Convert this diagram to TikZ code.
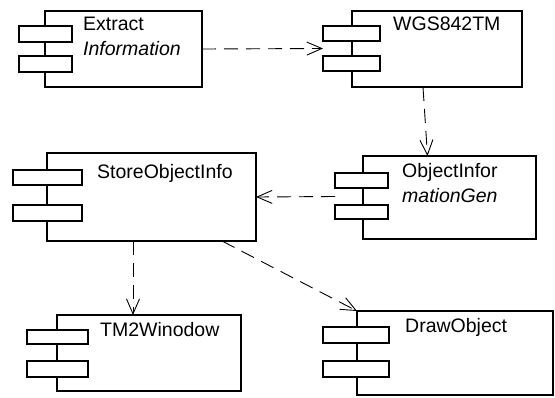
\documentclass[tikz,border=0pt]{standalone}
\usepackage{fontspec}
\usepackage{tikz}
\usetikzlibrary{calc,arrows.meta}
\newfontfamily\compfont{Liberation Sans}

\begin{document}
\begin{tikzpicture}[x=1pt, y=-1pt,
  comp/.style={draw, line width=1.6pt, inner sep=0pt, outer sep=0pt},
  tab/.style={draw, fill=white, line width=1.4pt, inner sep=0pt, outer sep=0pt},
  compname/.style={anchor=north west, inner sep=0pt, align=left, font=\compfont\fontsize{19.5}{25}\selectfont},
  dep/.style={-{Straight Barb[length=15pt, width=13pt]}, dash pattern=on 14pt off 8pt, line width=0.9pt}
]
\useasboundingbox (0,0) rectangle (555,397);

% component bodies
\node[comp, minimum width=157pt, minimum height=76pt] (extract) at (123.5,49) {};
\node[comp, minimum width=170pt, minimum height=76pt] (wgs) at (437,49) {};
\node[comp, minimum width=173pt, minimum height=83pt] (objgen) at (449.5,197.5) {};
\node[comp, minimum width=209pt, minimum height=88pt] (store) at (151.5,197) {};
\node[comp, minimum width=184pt, minimum height=76pt] (tmwin) at (149,353) {};
\node[comp, minimum width=196pt, minimum height=84pt] (drawobj) at (455,353) {};

% tabs on the left edge
\node[tab, minimum width=53pt, minimum height=16pt] (extract-t1) at (45.5,34) {};
\node[tab, minimum width=53pt, minimum height=16pt] (extract-t2) at (45.5,64) {};
\node[tab, minimum width=57pt, minimum height=15pt] (wgs-t1) at (351.5,33.5) {};
\node[tab, minimum width=57pt, minimum height=15pt] (wgs-t2) at (351.5,63.5) {};
\node[tab, minimum width=53pt, minimum height=15pt] (objgen-t1) at (361.5,180.5) {};
\node[tab, minimum width=53pt, minimum height=14pt] (objgen-t2) at (361.5,212) {};
\node[tab, minimum width=69pt, minimum height=15pt] (store-t1) at (47.5,177.5) {};
\node[tab, minimum width=69pt, minimum height=16pt] (store-t2) at (47.5,213) {};
\node[tab, minimum width=61pt, minimum height=14pt] (tmwin-t1) at (57.5,337) {};
\node[tab, minimum width=61pt, minimum height=16pt] (tmwin-t2) at (57.5,369) {};
\node[tab, minimum width=66pt, minimum height=16pt] (drawobj-t1) at (356,335) {};
\node[tab, minimum width=66pt, minimum height=16pt] (drawobj-t2) at (356,369) {};

% names
\node[compname] (extract-name) at (83,17) {Extract\\\textit{Information}};
\node[compname] (wgs-name) at (393,17) {WGS842TM};
\node[compname] (objgen-name) at (402,163) {ObjectInfor\\\textit{mationGen}};
\node[compname] (store-name) at (97,164) {StoreObjectInfo};
\node[compname] (tmwin-name) at (100,322) {TM2Winodow};
\node[compname] (drawobj-name) at (405,318) {DrawObject};

% dependencies
\draw[dep] (extract.east) -- ($(wgs-t1.south west)!.5!(wgs-t2.north west)$);
\draw[dep] ([xshift=-14pt]wgs.south) -- ([xshift=-22pt]objgen.north);
\draw[dep] ($(objgen-t1.south west)!.5!(objgen-t2.north west)$) -- (store.east);
\draw[dep] ([xshift=-18.5pt]store.south) -- ([xshift=-16pt]tmwin.north);
\draw[dep] ([xshift=-34pt]store.south east) -- (drawobj.north west);

\end{tikzpicture}
\end{document}
